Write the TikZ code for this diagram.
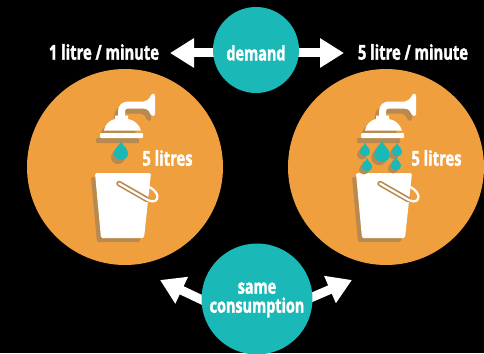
\documentclass[tikz,border=0pt]{standalone}
\usepackage{fontspec}
\setmainfont[FakeStretch=0.72,BoldFeatures={FakeBold=1.6}]{Open Sans}
\usetikzlibrary{arrows.meta}
\definecolor{orangeC}{HTML}{F09F3E}
\definecolor{tealC}{HTML}{1AB8B6}
\definecolor{shadeC}{HTML}{B98A50}
\tikzset{
  x=1pt,y=-1pt,
  bigdisc/.style={circle,fill=orangeC,minimum size=196pt,inner sep=0pt},
  hub/.style={circle,fill=tealC,inner sep=0pt},
  hublab/.style={text=white,inner sep=0pt,align=center,font=\bfseries\fontsize{20}{19}\selectfont},
  lab/.style={text=white,inner sep=0pt,font=\bfseries\fontsize{20.5}{20}\selectfont},
  flow/.style={white,line width=9pt,-{Triangle[length=24pt,width=28pt]}},
}
\newcommand{\dropshape}[3]{%
  \fill[#3] (#1,#2-10) .. controls (#1+1.5,#2-5) and (#1+7,#2-3) .. (#1+7,#2+2.5)
     .. controls (#1+7,#2+6.5) and (#1+3.5,#2+9) .. (#1,#2+9)
     .. controls (#1-3.5,#2+9) and (#1-7,#2+6.5) .. (#1-7,#2+2.5)
     .. controls (#1-7,#2-3) and (#1-1.5,#2-5) .. (#1,#2-10) -- cycle;}
\newcommand{\smalldrop}[3]{%
  \fill[#3] (#1,#2-7) .. controls (#1+1,#2-3.5) and (#1+5,#2-2) .. (#1+5,#2+2)
     .. controls (#1+5,#2+4.5) and (#1+2.5,#2+6.5) .. (#1,#2+6.5)
     .. controls (#1-2.5,#2+6.5) and (#1-5,#2+4.5) .. (#1-5,#2+2)
     .. controls (#1-5,#2-2) and (#1-1,#2-3.5) .. (#1,#2-7) -- cycle;}
\newcommand{\showerpart}[1]{%
  \draw[#1,line width=7pt] (121.5,118) -- (121.5,112) .. controls (121.5,107) and (124,105) .. (129,105) -- (147,105);
  \fill[#1] (144,101.5) .. controls (149,100) and (150,97) .. (152,94) .. controls (154,93) and (155,94) .. (155,96) -- (155,114) .. controls (155,116) and (153,117) .. (151,115) .. controls (150,112) and (148,109) .. (144,108.5) -- cycle;
  \fill[#1] (104,130.5) .. controls (105,124) and (110,120) .. (115,119) -- (115,115.5) -- (128,115.5) -- (128,119) .. controls (134,120) and (139,124) .. (141,130.5) -- cycle;
  \fill[#1,rounded corners=1pt] (100,133) rectangle (143,138);}
\newcommand{\bucketpart}[1]{%
  \fill[#1,rounded corners=1.5pt] (95,173) -- (151,173) -- (144,238) -- (101,238) -- cycle;}
\newcommand{\fixture}[1]{%
  \begin{scope}[xshift=#1pt]
    \begin{scope}[xshift=-4pt,yshift=-5pt]\showerpart{shadeC}\end{scope}
    \showerpart{white}
    \begin{scope}[xshift=-4pt,yshift=-4pt]\bucketpart{shadeC}\end{scope}
    \bucketpart{white}
    \draw[shadeC,line width=5.5pt,line cap=round] (119,183.5) -- (147,199.5);
    \draw[white,line width=2.2pt,line cap=round] (119,183.5) -- (145,198.5) .. controls (150,201.5) and (155,203) .. (157,199) .. controls (159,195) and (155,190) .. (149.5,187);
  \end{scope}}
\begin{document}
\begin{tikzpicture}
\useasboundingbox (0,0) rectangle (484,353);
\fill[black] (0,0) rectangle (484,353);
\node[bigdisc] (left) at (125,167) {};
\node[bigdisc] (right) at (386,167) {};
\coordinate (tipDL) at (170,53);
\coordinate (tipDR) at (344,53);
\coordinate (tipSL) at (160,280);
\coordinate (tipSR) at (352,280);
\coordinate (fromDem) at (256,53);
\coordinate (fromSameL) at (257,326);
\coordinate (fromSameR) at (257,321);
\draw[flow] (fromDem) -- (tipDL);
\draw[flow] (fromDem) -- (tipDR);
\draw[flow] (fromSameL) -- (tipSL);
\draw[flow] (fromSameR) -- (tipSR);
\node[hub,minimum size=86pt] (demand) at (256,50) {};
\node[hub,minimum size=111pt] (same) at (257,299) {};
\node[hublab] (demandL) at (256,53) {demand};
\node[hublab] (sameL) at (257,300) {same\\consumption};
\node[lab] (l1) at (104,52) {1 litre / minute};
\node[lab] (l2) at (413,52) {5 litre / minute};
\node[lab] (l3) at (167.5,158) {5 litres};
\node[lab] (l4) at (436.5,158) {5 litres};
\fixture{0}
\fixture{261}
\dropshape{118}{155}{shadeC}
\dropshape{121}{151}{tealC}
\begin{scope}[shift={(379,155)},scale=1.12]\dropshape{0}{0}{shadeC}\end{scope}
\begin{scope}[shift={(382,152)},scale=1.12]\dropshape{0}{0}{tealC}\end{scope}
\smalldrop{362}{153}{shadeC}
\smalldrop{365}{150}{tealC}
\smalldrop{394}{153}{shadeC}
\smalldrop{397}{150}{tealC}
\smalldrop{364}{168}{shadeC}
\smalldrop{367}{165}{tealC}
\smalldrop{393}{167}{shadeC}
\smalldrop{396}{164}{tealC}
\end{tikzpicture}
\end{document}
